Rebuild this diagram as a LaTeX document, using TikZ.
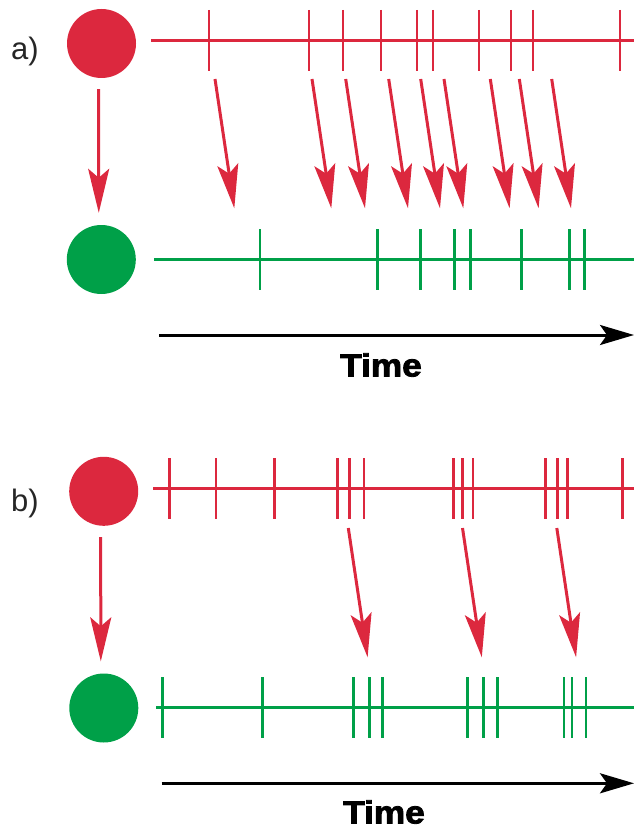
\documentclass[tikz,border=0pt]{standalone}
\usepackage{fontspec}
\setmainfont{Liberation Sans}
\newfontfamily\timefont[FakeBold=2.5]{Liberation Sans}
\usetikzlibrary{arrows.meta}
\definecolor{myred}{RGB}{220,40,62}
\definecolor{mygreen}{RGB}{0,160,72}
\begin{document}
\begin{tikzpicture}[x=1pt,y=-1pt,
  redline/.style={draw=myred,line width=3pt},
  redtick/.style={draw=myred,line width=2.6pt},
  greenline/.style={draw=mygreen,line width=3pt},
  greentick/.style={draw=mygreen,line width=2.6pt},
  redarrow/.style={draw=myred,line width=3pt,-{Stealth[length=44pt,width=21pt,inset=9pt,fill=myred]}},
  timearrow/.style={draw=black,line width=3pt,-{Stealth[length=34pt,width=20pt,inset=7pt]}},
  reddot/.style={circle,inner sep=0pt,minimum size=69pt,fill=myred},
  greendot/.style={circle,inner sep=0pt,minimum size=69pt,fill=mygreen},
  panellabel/.style={font=\fontsize{31}{31}\selectfont,text=black!85,inner sep=0pt,anchor=base west},
  timelabel/.style={font=\timefont\bfseries\fontsize{32}{32}\selectfont,inner sep=0pt}]
\useasboundingbox (0,0) rectangle (634,829);

% ---------- panel a ----------
\node[panellabel] (la) at (11,60) {a)};
\node[reddot] (ra) at (101.5,43.5) {};
\node[greendot] (ga) at (101.3,259.5) {};
\draw[redline] (151,40.3) -- (634,40.3);
\foreach \x in {209,309,343,381,417,433,479,511,533,620}
  \draw[redtick] (\x,10) -- (\x,71);
\draw[greenline] (154,259) -- (634,259);
\foreach \x in {260,377.7,420.3,454.7,470.7,521.3,569.7,584.3}
  \draw[greentick] (\x,229) -- (\x,290);
\draw[redarrow,shorten <=11pt,shorten >=12pt] ([xshift=-3pt]ra.south) -- ([xshift=-2.5pt]ga.north);
\foreach \s [count=\i] in {215,312,345.7,388.7,420.7,444,490.3,519.3,551.7}{
  \coordinate (as\i) at (\s,79);
  \coordinate (ae\i) at (\s+19.3,208.3);
  \draw[redarrow] (as\i) -- (ae\i);
}
\coordinate (tas) at (159,335);
\coordinate (tae) at (634,335);
\draw[timearrow] (tas) -- (tae);
\node[timelabel] (ta) at (381,365) {\scalebox{1.1}[1]{Time}};

% ---------- panel b ----------
\node[panellabel] (lb) at (11,511.7) {b)};
\node[reddot] (rb) at (103.7,491.3) {};
\node[greendot] (gb) at (103.8,708) {};
\draw[redline] (153.3,488.7) -- (634,488.7);
\foreach \x in {169.3,216,274.3,337.3,349.3,364,453.3,462.7,473,545.3,557.3,567.7,622.3}
  \draw[redtick] (\x,458) -- (\x,519.3);
\draw[greenline] (156,707) -- (634,707);
\foreach \x in {162.7,262.3,353.3,369.3,382.3,467.7,483.7,497.3,564,572,586}
  \draw[greentick] (\x,677.3) -- (\x,738.3);
\draw[redarrow,shorten <=11pt,shorten >=12pt] ([xshift=-3pt]rb.south) -- ([xshift=-3pt]gb.north);
\foreach \s [count=\i] in {348.3,462.5,556.8}{
  \coordinate (bs\i) at (\s,528);
  \coordinate (be\i) at (\s+19.3,657.3);
  \draw[redarrow] (bs\i) -- (be\i);
}
\coordinate (tbs) at (161.7,783.3);
\coordinate (tbe) at (634,783.3);
\draw[timearrow] (tbs) -- (tbe);
\node[timelabel] (tb) at (384,812) {\scalebox{1.1}[1]{Time}};
\end{tikzpicture}
\end{document}
